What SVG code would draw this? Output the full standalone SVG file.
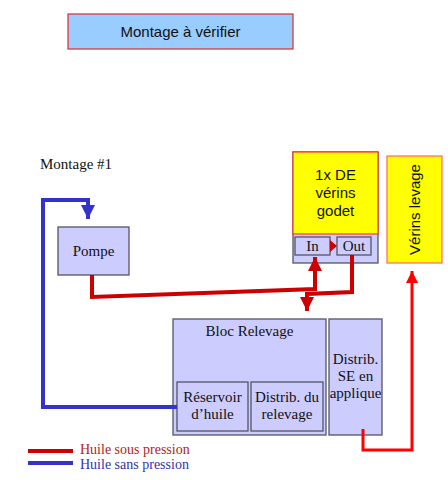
<svg xmlns="http://www.w3.org/2000/svg" width="448" height="480" viewBox="0 0 448 480">
<style>
.box{fill:#CCCCFF;stroke:#555566;stroke-width:1.3}
.yel{fill:#FFFF00;stroke:#FF3333;stroke-width:1.2}
.serif{font-family:"Liberation Serif",serif;font-size:15px;fill:#111}
.sans{font-family:"Liberation Sans",Arial,sans-serif;fill:#111}
.red{fill:none;stroke:#CC0000;stroke-width:4;stroke-linejoin:miter}
.blue{fill:none;stroke:#3333CC;stroke-width:4}
.rline{fill:none;stroke:#FF0000;stroke-width:3}
</style>
<defs>
<marker id="ar" viewBox="0 0 10 10" refX="10" refY="5" markerWidth="3.5" markerHeight="3.5" orient="auto" markerUnits="strokeWidth"><path d="M0,0L10,5L0,10z" fill="#CC0000"/></marker>
<marker id="ab" viewBox="0 0 10 10" refX="10" refY="5" markerWidth="3.5" markerHeight="3.5" orient="auto" markerUnits="strokeWidth"><path d="M0,0L10,5L0,10z" fill="#3333CC"/></marker>
<marker id="arr" viewBox="0 0 10 10" refX="10" refY="5" markerWidth="4" markerHeight="4" orient="auto" markerUnits="strokeWidth"><path d="M0,0L10,5L0,10z" fill="#FF0000"/></marker>
</defs>
<g id="title"><rect x="68" y="14" width="225" height="35" fill="#99CCFF" stroke="#EE2222" stroke-width="1.2"/><text class="sans" x="180.5" y="37" font-size="15" text-anchor="middle">Montage à vérifier</text></g>
<g id="label"><text class="serif" x="40" y="169">Montage #1</text></g>
<g id="pompe"><rect class="box" x="58" y="227" width="71" height="48"/><text class="serif" x="93.5" y="256" text-anchor="middle">Pompe</text></g>
<g id="de"><rect class="box" x="293" y="152" width="85" height="111"/><rect class="yel" x="293" y="152" width="85" height="82"/>
<text class="sans" font-size="15" text-anchor="middle"><tspan x="335.5" y="180">1x DE</tspan><tspan x="335.5" y="198">vérins</tspan><tspan x="335.5" y="216">godet</tspan></text>
<rect class="box" x="295" y="237" width="35" height="18"/><text class="serif" x="312.5" y="251" font-size="14" text-anchor="middle">In</text>
<rect class="box" x="337" y="237" width="34" height="18"/><text class="serif" x="354" y="251" font-size="14" text-anchor="middle">Out</text>
<path d="M330,240L337,246L330,252z" fill="#CC0000"/></g>
<g id="verins"><rect x="387" y="156" width="55" height="107" fill="#FFFF00" stroke="#FF6666" stroke-width="1.2"/><text class="sans" font-size="15" text-anchor="middle" transform="translate(420,209.5) rotate(-90)">Vérins levage</text></g>
<g id="bloc"><rect class="box" x="173" y="319" width="153" height="116"/><text class="serif" x="249.5" y="336" text-anchor="middle">Bloc Relevage</text>
<rect class="box" x="177" y="382" width="71" height="49"/><text class="serif" text-anchor="middle"><tspan x="212.5" y="402">Réservoir</tspan><tspan x="212.5" y="419">d’huile</tspan></text>
<rect class="box" x="251" y="382" width="72" height="49"/><text class="serif" text-anchor="middle"><tspan x="287" y="402">Distrib. du</tspan><tspan x="287" y="419">relevage</tspan></text></g>
<g id="distse"><rect class="box" x="329" y="319" width="53" height="116"/><text class="serif" text-anchor="middle"><tspan x="355.5" y="364">Distrib.</tspan><tspan x="355.5" y="381">SE en</tspan><tspan x="355.5" y="398">applique</tspan></text></g>
<g id="connectors">
<path class="blue" d="M177,407H43V200H88V219" marker-end="url(#ab)"/>
<path class="red" d="M92,275V297L315,289V257" marker-end="url(#ar)"/>
<path class="red" d="M352,255V292L307,294V311" marker-end="url(#ar)"/>
<path class="rline" d="M363,429V450H412V271" marker-end="url(#arr)"/>
</g>
<g id="legend">
<line x1="28" y1="451" x2="73" y2="451" stroke="#CC0000" stroke-width="4"/>
<line x1="28" y1="463" x2="73" y2="463" stroke="#3333CC" stroke-width="4"/>
<text x="80" y="454" font-family="Liberation Serif,serif" font-size="14" fill="#B22222">Huile sous pression</text>
<text x="80" y="468.5" font-family="Liberation Serif,serif" font-size="14" fill="#3333AA">Huile sans pression</text>
</g>
</svg>
